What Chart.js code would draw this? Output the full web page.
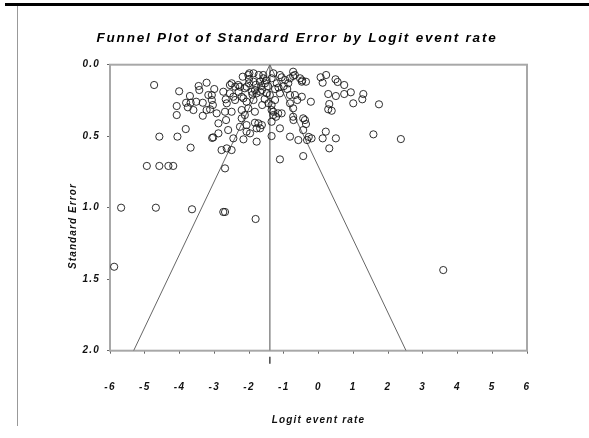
<!DOCTYPE html>
<html lang="en">
<head>
    <meta charset="UTF-8">
    <title>Funnel Plot</title>
    <script src="https://cdn.jsdelivr.net/npm/chart.js"></script>
    <style>
        body { margin: 0; background: #fff; }
        #wrap { position: relative; width: 589px; height: 438px; }
        .topbar { position: absolute; left: 5px; top: 3px; width: 584px; height: 3px; background: #000; }
        .sideline { position: absolute; left: 17px; top: 6px; width: 1px; height: 420px; background: #999; }
    </style>
</head>
<body>
    <div id="wrap">
        <canvas id="funnel"></canvas>
        <div class="topbar"></div>
        <div class="sideline"></div>
    </div>

    <script>
        // study estimates: logit event rate and its standard error
        const logit = [
            -4.73, -4.01, -4.08, -3.70, -3.68, -3.81, -3.52, -3.76, -3.60, -4.08, -3.33, -3.45, -3.43, -3.22,
            -3.17, -3.00, -3.07, -3.04, -3.12, -2.93, -2.88, -2.69, -2.66, -2.50, -2.74, -2.67, -2.55, -2.45,
            -2.26, -2.18, -2.21, -2.07, -1.99, -1.92, -1.87, -1.72, -1.68, -1.59, -1.68, -1.87, -2.07, -2.02,
            -1.83, -1.62, -1.40, -1.35, -1.30, -1.22, -1.06, -2.21, -2.26, -2.07, -1.83, -1.63, -1.78, -2.45,
            -2.16, -1.78, -2.07, -1.35, -1.11, -1.11, -0.82, -0.73, -0.73, -0.61, -0.82, -1.11, -0.87, -0.73,
            -0.53, -0.36, -0.44, -0.44, -0.39, -0.22, -0.33, -0.44, -0.58, -0.20, -2.64, -2.50, -2.79, -2.69,
            -3.03, -3.06, -3.68, -3.82, -4.06, -4.58, -4.94, -4.58, -4.32, -4.18, -3.33, -3.22,
            -1.06, -0.73, -0.48, -0.47, -0.68, -0.48, 0.06, 0.22, 0.12, 0.49, 0.55, 0.74, 0.28, 0.50, 0.74,
            0.93, 1.29, 1.26, 1.00, 1.74, 0.31, 0.28, 0.38, -0.36, -0.72, -1.35, -0.28, 0.12, 0.21, 0.50, 0.31,
            1.58, 2.37,
            -3.07, -2.64, -2.50, -2.40, -2.31, -2.02, -1.87, -2.12, -1.83, -2.55, -2.16, -2.40, -2.21, -2.12,
            -2.60, -2.88, -1.97,
            -1.59, -1.54, -1.63, -1.78, -1.49, -1.35, -1.20, -1.11, -0.96, -0.82, -0.68, -1.25, -1.44, -1.35,
            -1.30, -1.16, -0.82, -1.73, -1.68,
            -1.45, -1.25, -1.50, -1.30, -1.80, -2.00, -2.30, -1.55, -1.90, -1.15, -1.00, -0.90, -1.65, -2.00,
            -5.68, -4.68, -3.64, -2.74, -2.69, -1.81, -5.88, 3.59
        ];
        const stdErr = [
            0.142, 0.186, 0.289, 0.219, 0.266, 0.266, 0.259, 0.298, 0.317, 0.352, 0.357, 0.149, 0.177, 0.126,
            0.212, 0.170, 0.247, 0.282, 0.312, 0.340, 0.410, 0.329, 0.387, 0.329, 0.189, 0.242, 0.142, 0.224,
            0.154, 0.084, 0.224, 0.154, 0.060, 0.189, 0.119, 0.072, 0.119, 0.095, 0.189, 0.247, 0.259, 0.305,
            0.329, 0.282, 0.212, 0.282, 0.329, 0.364, 0.340, 0.375, 0.434, 0.422, 0.406, 0.422, 0.445, 0.515,
            0.522, 0.538, 0.468, 0.499, 0.445, 0.662, 0.503, 0.364, 0.305, 0.247, 0.212, 0.200, 0.130, 0.049,
            0.095, 0.119, 0.457, 0.375, 0.387, 0.259, 0.527, 0.639, 0.527, 0.515, 0.585, 0.597, 0.597, 0.725,
            0.508, 0.512, 0.580, 0.450, 0.503, 0.503, 0.708, 0.708, 0.708, 0.708, 0.266, 0.317,
            0.088, 0.079, 0.119, 0.110, 0.212, 0.224, 0.088, 0.072, 0.126, 0.102, 0.121, 0.142, 0.205, 0.219, 0.205,
            0.193, 0.205, 0.242, 0.270, 0.277, 0.275, 0.312, 0.322, 0.415, 0.387, 0.399, 0.505, 0.515, 0.468, 0.515, 0.585,
            0.487, 0.520,
            0.212, 0.270, 0.130, 0.154, 0.142, 0.072, 0.060, 0.165, 0.177, 0.200, 0.235, 0.247, 0.317, 0.352,
            0.457, 0.480, 0.480,
            0.072, 0.130, 0.177, 0.200, 0.200, 0.095, 0.130, 0.072, 0.107, 0.095, 0.072, 0.247, 0.270, 0.317,
            0.352, 0.340, 0.270, 0.410, 0.445,
            0.150, 0.170, 0.110, 0.060, 0.140, 0.130, 0.190, 0.240, 0.210, 0.160, 0.150, 0.170, 0.150, 0.100,
            1.000, 1.000, 1.011, 1.030, 1.030, 1.079, 1.413, 1.436
        ];

        // pooled estimate and 95% limits at SE = 2
        const meanLogit = -1.40;
        const funnelX = [-5.32, -1.40, 2.52];
        const funnelY = [2.0, 0.0, 2.0];
        const meanLineX = [meanLogit, meanLogit];
        const meanLineY = [0.0, 2.0];

        const xTicks = [-6, -5, -4, -3, -2, -1, 0, 1, 2, 3, 4, 5, 6];
        const yTickValues = [0, 0.5, 1, 1.5, 2];
        const yTickLabels = ['0.0', '0.5', '1.0', '1.5', '2.0'];

        const FONT = '"Liberation Sans", Arial, sans-serif';

        const zip = (xs, ys) => xs.map((x, i) => ({ x: x, y: ys[i] }));

        const decorPlugin = {
            id: 'decor',
            beforeDraw(chart) {
                chart.ctx.letterSpacing = '1.2px';
            },
            beforeDatasetsDraw(chart) {
                const { ctx, chartArea: a } = chart;
                ctx.save();
                ctx.strokeStyle = '#a8a8a8';
                ctx.lineWidth = 2;
                ctx.strokeRect(a.left, a.top, a.right - a.left, a.bottom - a.top);
                ctx.restore();
            },
            afterDraw(chart) {
                const { ctx, chartArea: a, scales } = chart;
                ctx.save();
                // title
                ctx.letterSpacing = '1.8px';
                ctx.fillStyle = '#000';
                ctx.font = 'bold italic 13.5px ' + FONT;
                ctx.textAlign = 'center';
                ctx.textBaseline = 'alphabetic';
                ctx.fillText('Funnel Plot of Standard Error by Logit event rate', 297, 42);
                // y axis title
                ctx.letterSpacing = '1.1px';
                ctx.fillStyle = '#111';
                ctx.font = 'bold italic 10px ' + FONT;
                ctx.translate(73, 226);
                ctx.rotate(-Math.PI / 2);
                ctx.textBaseline = 'middle';
                ctx.fillText('Standard Error', 0, 0);
                ctx.restore();
                // marker of pooled estimate under the axis
                const mx = scales.x.getPixelForValue(meanLogit);
                ctx.save();
                ctx.strokeStyle = '#444';
                ctx.lineWidth = 1.5;
                ctx.beginPath();
                ctx.moveTo(mx, a.bottom + 6);
                ctx.lineTo(mx, a.bottom + 13);
                ctx.stroke();
                ctx.restore();
            }
        };

        new Chart(document.getElementById('funnel'), {
            type: 'scatter',
            data: {
                datasets: [
                    {
                        label: 'Studies',
                        data: zip(logit, stdErr),
                        pointRadius: 3.6,
                        pointBorderWidth: 1,
                        borderColor: 'rgba(25,25,25,0.9)',
                        backgroundColor: 'rgba(0,0,0,0)',
                        order: 1
                    },
                    {
                        type: 'line',
                        label: 'Funnel',
                        data: zip(funnelX, funnelY),
                        borderColor: '#666',
                        borderWidth: 1,
                        pointRadius: 0,
                        tension: 0,
                        fill: false,
                        order: 2
                    },
                    {
                        type: 'line',
                        label: 'Mean',
                        data: zip(meanLineX, meanLineY),
                        borderColor: '#8a8a8a',
                        borderWidth: 1.5,
                        pointRadius: 0,
                        fill: false,
                        order: 3
                    }
                ]
            },
            options: {
                responsive: true,
                maintainAspectRatio: false,
                animation: false,
                layout: { padding: { top: 64.7, right: 62, left: 0, bottom: 0 } },
                plugins: {
                    legend: { display: false },
                    tooltip: { enabled: false }
                },
                scales: {
                    x: {
                        type: 'linear',
                        min: -6,
                        max: 6,
                        afterBuildTicks: (scale) => { scale.ticks = xTicks.map(v => ({ value: v })); },
                        afterFit: (scale) => { scale.height = 87.3; },
                        ticks: {
                            padding: 28,
                            color: '#111',
                            font: { family: FONT, size: 10, style: 'italic', weight: 'bold' }
                        },
                        grid: { drawOnChartArea: false, drawTicks: true, tickLength: 3, color: '#666' },
                        border: { display: false },
                        title: {
                            display: true,
                            text: 'Logit event rate',
                            color: '#111',
                            padding: { top: 0, bottom: 12 },
                            font: { family: FONT, size: 10, style: 'italic', weight: 'bold' }
                        }
                    },
                    y: {
                        type: 'linear',
                        min: 0,
                        max: 2,
                        reverse: true,
                        afterBuildTicks: (scale) => { scale.ticks = yTickValues.map(v => ({ value: v })); },
                        afterFit: (scale) => { scale.width = 110; },
                        ticks: {
                            padding: 7,
                            color: '#111',
                            font: { family: FONT, size: 10, style: 'italic', weight: 'bold' },
                            callback: (value) => yTickLabels[yTickValues.indexOf(value)]
                        },
                        grid: { drawOnChartArea: false, drawTicks: true, tickLength: 3, color: '#666' },
                        border: { display: false }
                    }
                }
            },
            plugins: [decorPlugin]
        });
    </script>
</body>
</html>
